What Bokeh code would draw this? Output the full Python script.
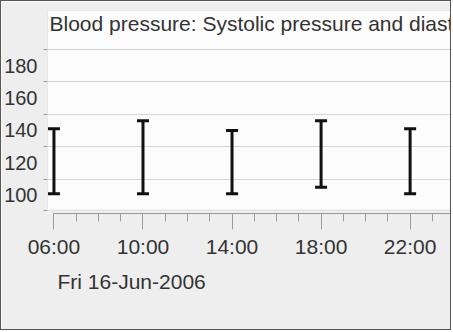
from datetime import datetime, timedelta
from bokeh.plotting import figure
from bokeh.models import (Range1d, FixedTicker, DatetimeTickFormatter, BoxAnnotation,
                          Label, Title, ColumnDataSource)
from bokeh.embed import file_html
from bokeh.resources import INLINE

# ---- data ----
day = datetime(2006, 6, 16)
hours = [6, 10, 14, 18, 22]
systolic = [141, 146, 140, 146, 141]
diastolic = [101, 101, 101, 105, 101]
y_labels = [100, 120, 140, 160, 180]
title_text = "Blood pressure: Systolic pressure and diastolic pressure"
date_text = "Fri 16-Jun-2006"

EPOCH = datetime(1970, 1, 1)


def ms(dt):
    return (dt - EPOCH).total_seconds() * 1000.0


times = [day + timedelta(hours=h) for h in hours]
src = ColumnDataSource(dict(x=[ms(t) for t in times], sys=systolic, dia=diastolic))

x_start = day + timedelta(hours=5.71)
x_end = day + timedelta(hours=23.904)
y_start, y_end = 88.75, 213.94
box_bottom = 90.8

FONT = "Liberation Sans"
TXT = "#333333"
GRAY = "#9a9a9a"

p = figure(width=451, height=330, output_backend="svg", toolbar_location=None,
           x_axis_type="datetime",
           x_range=Range1d(ms(x_start), ms(x_end)),
           y_range=Range1d(y_start, y_end),
           min_border_left=43, min_border_right=0, min_border_top=9, min_border_bottom=118)
p.background_fill_color = "#eeeeee"
p.border_fill_color = "#eeeeee"
p.outline_line_color = None
p.styles = {"border": "1px solid #555555"}

box = BoxAnnotation(bottom=box_bottom, fill_color="#fcfcfc", fill_alpha=1.0,
                    line_color="#a8a8a8", line_width=1, level="image")
p.add_layout(box)

# grid
p.xgrid.visible = False
p.ygrid.ticker = FixedTicker(ticks=[110, 130, 150, 170, 190])
p.ygrid.grid_line_color = "#d4d4d4"

# y axis
p.yaxis.ticker = FixedTicker(ticks=y_labels, minor_ticks=[box_bottom, 110, 130, 150, 170, 190])
p.yaxis.axis_line_color = None
p.yaxis.major_tick_line_color = None
p.yaxis.major_tick_out = 0
p.yaxis.major_tick_in = 0
p.yaxis.minor_tick_out = 4
p.yaxis.minor_tick_in = 0
p.yaxis.minor_tick_line_color = GRAY
p.yaxis.major_label_standoff = 6
p.yaxis.major_label_text_font = FONT
p.yaxis.major_label_text_font_size = "20px"
p.yaxis.major_label_text_color = TXT

# x axis
p.xaxis.ticker = FixedTicker(ticks=[ms(t) for t in times],
                             minor_ticks=[ms(day + timedelta(hours=h)) for h in range(6, 24)])
fmt = "%H:%M"
p.xaxis.formatter = DatetimeTickFormatter(minutes=fmt, hourmin=fmt, hours=fmt, days=fmt)
p.xaxis.bounds = (ms(times[0]), ms(x_end))
p.xaxis.axis_line_color = GRAY
p.xaxis.major_tick_line_color = GRAY
p.xaxis.minor_tick_line_color = GRAY
p.xaxis.major_tick_out = 16
p.xaxis.major_tick_in = 0
p.xaxis.minor_tick_out = 8
p.xaxis.minor_tick_in = 0
p.xaxis.major_label_standoff = 5
p.xaxis.major_label_text_font = FONT
p.xaxis.major_label_text_font_size = "21px"
p.xaxis.major_label_text_color = TXT

# range bars
p.segment(x0="x", y0="dia", x1="x", y1="sys", source=src, line_width=3, line_color="#111111")
p.scatter(x="x", y="sys", source=src, marker="dash", size=12, line_width=3, line_color="#111111")
p.scatter(x="x", y="dia", source=src, marker="dash", size=12, line_width=3, line_color="#111111")

# title inside the box
p.add_layout(Label(x=ms(x_start), y=y_end, x_offset=2, y_offset=-13, text=title_text,
                   text_baseline="alphabetic", text_font=FONT, text_font_size="21px",
                   text_color=TXT))

# date under the axis
p.add_layout(Title(text=date_text, align="left", offset=10, standoff=15, text_font=FONT,
                   text_font_size="21px", text_font_style="normal", text_color=TXT), "below")

open("out.html", "w").write(file_html(p, INLINE))
